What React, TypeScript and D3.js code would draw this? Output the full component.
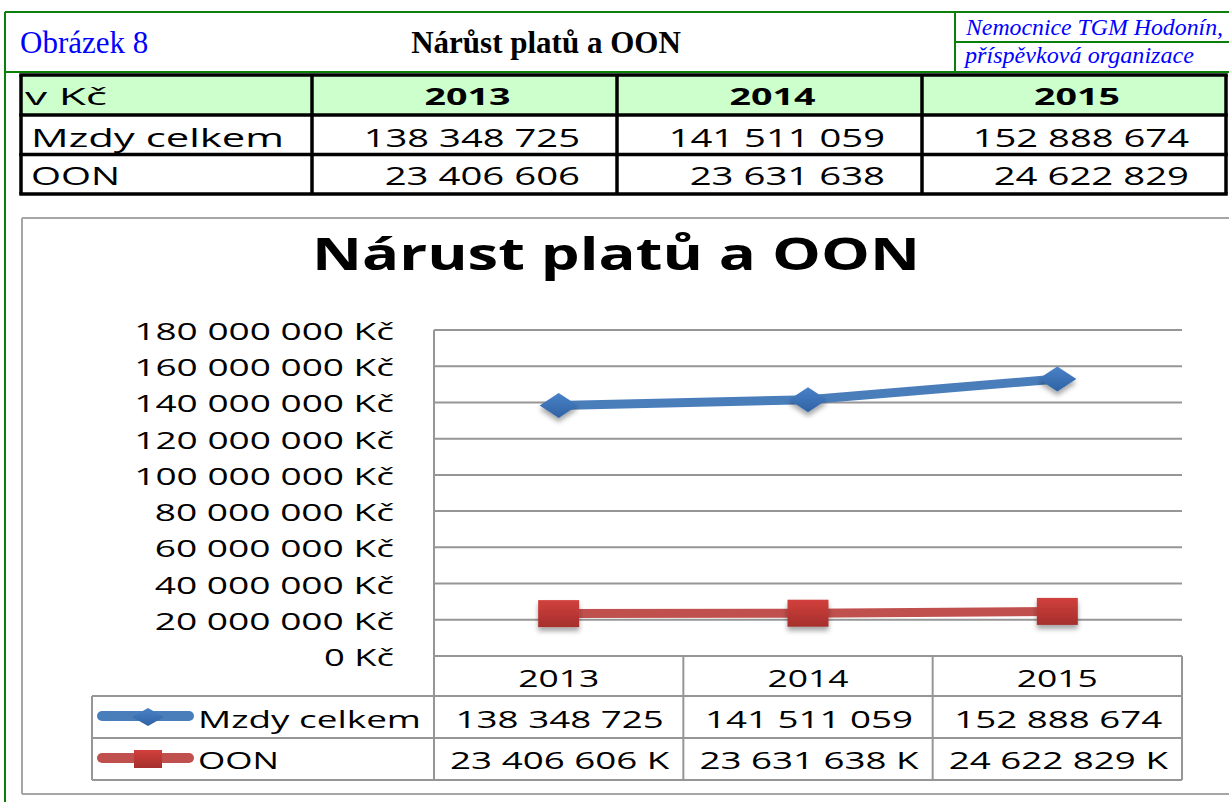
import React from 'react';
import * as d3 from 'd3';

// ---- data ----
const years = ['2013', '2014', '2015'];
const mzdyValues = [138348725, 141511059, 152888674];
const oonValues = [23406606, 23631638, 24622829];
const seriesNames = ['Mzdy celkem', 'OON'];
const yTickValues = [0, 20000000, 40000000, 60000000, 80000000, 100000000, 120000000, 140000000, 160000000, 180000000];
const headerTitle = 'Nárůst platů a OON';
const chartTitle = 'Nárust platů a OON';
const figureLabel = 'Obrázek 8';
const orgLine1 = 'Nemocnice TGM Hodonín,';
const orgLine2 = 'příspěvková organizace';
const unitLabel = 'v Kč';

// ---- helpers ----
const fmtNum = (v: number) => d3.format(',')(v).replace(/,/g, ' ');
const charW = (c: string) => (/\d/.test(c) ? 1 : c === ' ' ? 0.65 : c === 'K' ? 0.9 : c === 'č' ? 0.88 : 1);
const textW = (s: string, d: number) => s.split('').reduce((a, c) => a + charW(c), 0) * d;

const SANS = '"Open Sans", "Noto Sans", sans-serif';
const SERIF = '"Liberation Serif", "Times New Roman", serif';

const GREEN = '#0a800a';
const GRID = '#969696';
const BLUE = '#4a7ebb';
const RED = '#c0504d';

export default function App() {
  const W = 1229, H = 802;

  // top data table layout
  const tLeft = 21, tRight = 1226;
  const tCols = [tLeft, 312, 617, 922, tRight];
  const tRows = [75, 115, 154.5, 194];

  // chart layout
  const x = d3.scaleBand<string>().domain(years).range([434, 1182]);
  const y = d3.scaleLinear().domain([0, 180000000]).range([656, 330]);
  const bw = x.bandwidth();
  const cx = (yr: string) => (x(yr) as number) + bw / 2;
  const line = d3.line<[string, number]>().x(d => cx(d[0])).y(d => y(d[1]));
  const mzdyPts: [string, number][] = years.map((yr, i) => [yr, mzdyValues[i]]);
  const oonPts: [string, number][] = years.map((yr, i) => [yr, oonValues[i]]);

  const ctRows = [656, 696, 738, 780];
  const legendLeft = 92;
  const plotRight = 1182;

  const diamond = (w: number, h: number) => `M${-w / 2},0L0,${-h / 2}L${w / 2},0L0,${h / 2}Z`;

  const stretched = (s: string, xStart: number, yBase: number, width: number, size: number, weight = 400, key?: string) => (
    <text key={key} x={xStart} y={yBase} fontFamily={SANS} fontSize={size} fontWeight={weight}
      textLength={width} lengthAdjust="spacingAndGlyphs" fill="#000">{s}</text>
  );

  return (
    <svg width={W} height={H} style={{ position: 'absolute', left: 0, top: 0, background: '#fff' }}>
      <defs>
        <linearGradient id="gBlue" x1="0" y1="0" x2="0" y2="1">
          <stop offset="0" stopColor="#4a82c8" />
          <stop offset="1" stopColor="#2f62a3" />
        </linearGradient>
        <linearGradient id="gRed" x1="0" y1="0" x2="0" y2="1">
          <stop offset="0" stopColor="#d2403c" />
          <stop offset="1" stopColor="#a42f2c" />
        </linearGradient>
        <filter id="shadow" x="-50%" y="-50%" width="200%" height="200%">
          <feDropShadow dx="0" dy="4" stdDeviation="2.5" floodColor="#000" floodOpacity="0.35" />
        </filter>
      </defs>

      {/* green header frame */}
      <g stroke={GREEN} strokeWidth={2} fill="none">
        <line x1={5} y1={12} x2={W} y2={12} />
        <line x1={5} y1={12} x2={5} y2={H} />
        <line x1={5} y1={72} x2={W} y2={72} />
        <line x1={955} y1={12} x2={955} y2={72} />
        <line x1={955} y1={42} x2={W} y2={42} />
      </g>
      <text x={20} y={53} fontFamily={SERIF} fontSize={31} fill="#0000ff">{figureLabel}</text>
      <text x={546} y={53} fontFamily={SERIF} fontSize={31} fontWeight={700} textAnchor="middle" fill="#000">{headerTitle}</text>
      <text x={966} y={35} fontFamily={SERIF} fontSize={22.5} fontStyle="italic" fill="#0000ff"
        textLength={257} lengthAdjust="spacingAndGlyphs">{orgLine1}</text>
      <text x={965} y={63} fontFamily={SERIF} fontSize={22.5} fontStyle="italic" fill="#0000ff"
        textLength={229} lengthAdjust="spacingAndGlyphs">{orgLine2}</text>

      {/* top data table */}
      <rect x={tLeft} y={tRows[0]} width={tRight - tLeft} height={tRows[1] - tRows[0]} fill="#ccffcc" />
      <g stroke="#000" strokeWidth={3.5}>
        {tRows.map((r, i) => <line key={'tr' + i} x1={tLeft - 1.75} y1={r} x2={tRight + 1.75} y2={r} />)}
        {tCols.map((c, i) => <line key={'tc' + i} x1={c} y1={tRows[0]} x2={c} y2={tRows[3]} />)}
      </g>
      {stretched(unitLabel, 25, 105, 82, 24)}
      {years.map((yr, i) => {
        const mid = (tCols[i + 1] + tCols[i + 2]) / 2;
        const w = textW(yr, 21.5);
        return stretched(yr, mid - w / 2 + 3, 105, w, 24, 700, 'th' + i);
      })}
      {stretched(seriesNames[0], 31, 147, 253, 25.5)}
      {stretched(seriesNames[1], 31, 185, 89, 25.5)}
      {years.map((yr, i) => {
        const s = fmtNum(mzdyValues[i]);
        const w = textW(s, 21);
        const end = tCols[i + 2] - 37;
        return stretched(s, end - w, 147, w, 25.5, 400, 'tm' + i);
      })}
      {years.map((yr, i) => {
        const s = fmtNum(oonValues[i]);
        const w = textW(s, 21);
        const end = tCols[i + 2] - 37;
        return stretched(s, end - w, 185, w, 25.5, 400, 'to' + i);
      })}

      {/* chart frame */}
      <g stroke="#a6a6a6" strokeWidth={2} fill="none">
        <line x1={22} y1={218} x2={W} y2={218} />
        <line x1={22} y1={218} x2={22} y2={794} />
        <line x1={22} y1={794} x2={W} y2={794} />
      </g>
      <text x={312} y={270} fontFamily={SANS} fontSize={45} fontWeight={700} fill="#000"
        textLength={608} lengthAdjust="spacingAndGlyphs">{chartTitle}</text>

      {/* gridlines */}
      <g stroke={GRID} strokeWidth={2}>
        {yTickValues.map(v => <line key={'g' + v} x1={434} y1={y(v)} x2={plotRight} y2={y(v)} />)}
        <line x1={434} y1={y(180000000)} x2={434} y2={ctRows[3]} />
        {years.map((yr, i) => <line key={'cv' + i} x1={(x(yr) as number) + bw} y1={ctRows[0]} x2={(x(yr) as number) + bw} y2={ctRows[3]} />)}
        {ctRows.slice(1).map((r, i) => <line key={'ch' + i} x1={legendLeft} y1={r} x2={plotRight} y2={r} />)}
        <line x1={legendLeft} y1={ctRows[1]} x2={legendLeft} y2={ctRows[3]} />
      </g>

      {/* y tick labels */}
      {yTickValues.map(v => {
        const s = fmtNum(v) + ' Kč';
        const w = textW(s, 20.4);
        return stretched(s, 394 - w, y(v) + 10, w, 23.5, 400, 'yt' + v);
      })}

      {/* category labels */}
      {years.map(yr => {
        const w = textW(yr, 20.25);
        return stretched(yr, cx(yr) - w / 2, 687, w, 23.5, 400, 'yl' + yr);
      })}

      {/* chart data table values */}
      {years.map((yr, i) => {
        const s = fmtNum(mzdyValues[i]);
        const w = textW(s, 20.2);
        return stretched(s, cx(yr) - w / 2 + 1, 728, w, 23.5, 400, 'cm' + i);
      })}
      {years.map((yr, i) => {
        const s = fmtNum(oonValues[i]) + ' K';
        const w = textW(s, 20.2);
        return stretched(s, cx(yr) - w / 2 + 1, 769, w, 23.5, 400, 'co' + i);
      })}

      {/* legend keys */}
      <line x1={102} y1={716} x2={189} y2={716} stroke={BLUE} strokeWidth={10} strokeLinecap="round" />
      <path d={diamond(32, 18)} transform="translate(148,717)" fill="url(#gBlue)" />
      {stretched(seriesNames[0], 198, 728, 223, 23.5)}
      <line x1={102} y1={758} x2={189} y2={758} stroke={RED} strokeWidth={10} strokeLinecap="round" />
      <rect x={134} y={750} width={28} height={18} fill="url(#gRed)" />
      {stretched(seriesNames[1], 198, 769, 81, 23.5)}

      {/* series */}
      <path d={line(mzdyPts) as string} fill="none" stroke={BLUE} strokeWidth={9} />
      <path d={line(oonPts) as string} fill="none" stroke={RED} strokeWidth={9} />
      <g filter="url(#shadow)">
        {mzdyPts.map(p => (
          <path key={'md' + p[0]} d={diamond(38, 25)} transform={`translate(${cx(p[0])},${y(p[1])})`} fill="url(#gBlue)" />
        ))}
        {oonPts.map(p => (
          <rect key={'os' + p[0]} x={cx(p[0]) - 20.5} y={y(p[1]) - 13.5} width={41} height={27} fill="url(#gRed)" />
        ))}
      </g>
    </svg>
  );
}
